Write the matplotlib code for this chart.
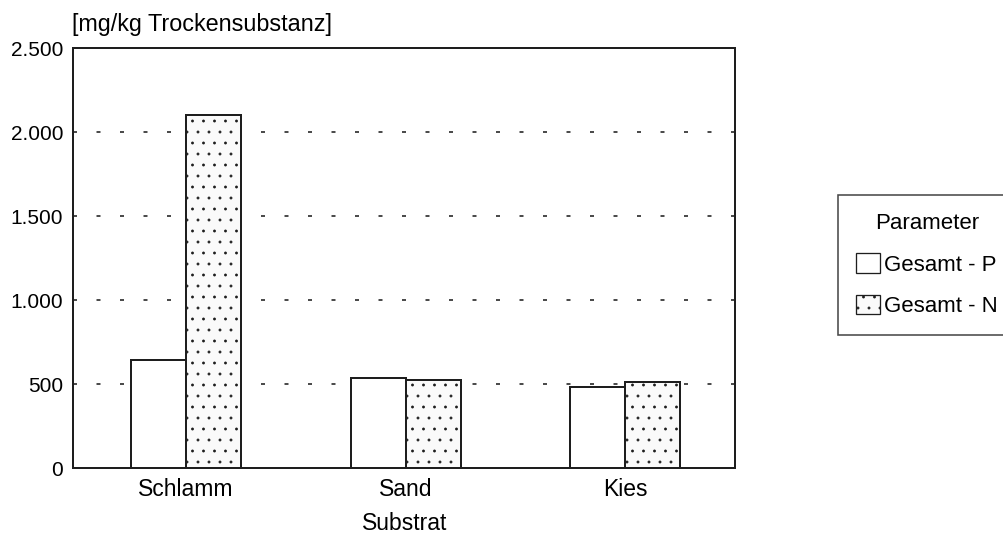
import matplotlib
matplotlib.use("Agg")
import matplotlib.pyplot as plt
from matplotlib.patches import Patch
from matplotlib.ticker import FuncFormatter

categories = ["Schlamm", "Sand", "Kies"]
gesamt_p = [645, 536, 482]
gesamt_n = [2100, 524, 512]
y_ticks = [0, 500, 1000, 1500, 2000, 2500]

DPI = 132
W, H = 1003, 539
K = 100 / DPI  # sizes below are written as points at 100 dpi


def px(v):
    """pixels -> points at the working dpi"""
    return v * 72 / DPI


plt.rcParams["font.family"] = ["Liberation Sans", "DejaVu Sans"]
plt.rcParams["hatch.linewidth"] = 0.45 * K
plt.rcParams["hatch.color"] = "#7a7a7a"

INK = "#1e1e1e"
fig = plt.figure(figsize=(W / DPI, H / DPI), dpi=DPI)
ax = fig.add_axes([73 / W, 1 - 468 / H, 662 / W, 420 / H])

x = list(range(len(categories)))
w = 0.25
ax.bar([i - w / 2 for i in x], gesamt_p, width=w, facecolor="white",
       edgecolor=INK, linewidth=px(2.0), zorder=3)
ax.bar([i + w / 2 for i in x], gesamt_n, width=w, facecolor="#fafafa",
       edgecolor=INK, linewidth=px(2.0), hatch="..", zorder=3)

ax.set_xlim(-0.515, 2.5)
ax.set_ylim(0, 2500)
ax.set_yticks(y_ticks)
ax.yaxis.set_major_formatter(FuncFormatter(lambda v, p: f"{int(v):,}".replace(",", ".")))
ax.set_xticks(x)
ax.set_xticklabels(categories)
ax.tick_params(axis="x", length=0, labelsize=16.5 * K, pad=px(10))
ax.tick_params(axis="y", length=0, labelsize=15 * K, pad=px(10))

for v in y_ticks[1:-1]:
    ax.axhline(v, color="#383838", linewidth=px(1.8),
               linestyle=(0, (4 / 1.8, 19.5 / 1.8)), zorder=1)

for s in ax.spines.values():
    s.set_linewidth(px(2.0))
    s.set_color(INK)

fig.text(72 / W, 1 - 24 / H, "[mg/kg Trockensubstanz]", fontsize=16.8 * K,
         ha="left", va="center")
fig.text(405 / W, 1 - 524 / H, "Substrat", fontsize=16.5 * K,
         ha="center", va="center")

handles = [Patch(facecolor="white", edgecolor=INK, linewidth=px(1.3)),
           Patch(facecolor="#fafafa", edgecolor=INK, linewidth=px(1.3), hatch="..")]
leg = fig.legend(handles, ["Gesamt - P", "Gesamt - N"], title="Parameter",
                 loc="upper left", bbox_to_anchor=(838 / W, 1 - 195 / H),
                 fontsize=16 * K, title_fontsize=16 * K, frameon=True,
                 fancybox=False, edgecolor=INK, handlelength=1.05,
                 handleheight=1.0, handletextpad=0.22, borderpad=0.82,
                 labelspacing=0.85, borderaxespad=0)
leg.get_frame().set_linewidth(px(1.6))

fig.savefig("out.png", dpi=DPI, facecolor="white")
